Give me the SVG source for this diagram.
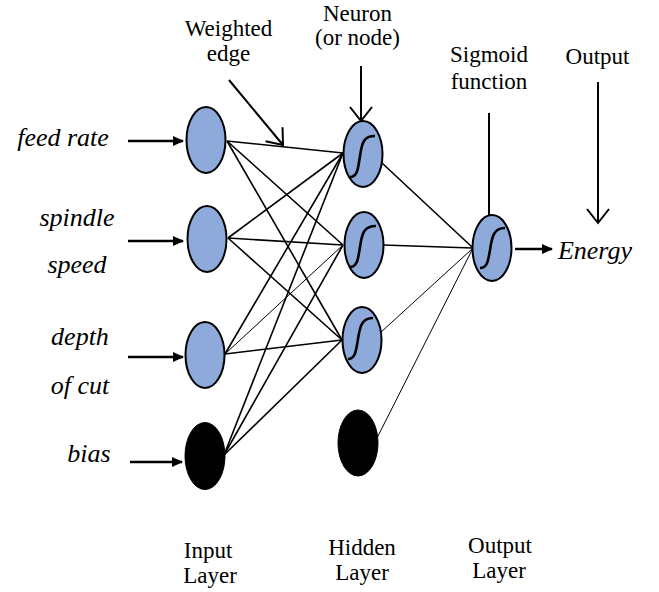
<svg xmlns="http://www.w3.org/2000/svg" width="659" height="592" viewBox="0 0 659 592">
<style>
text{fill:#000;text-anchor:middle;font-family:"Liberation Serif","Times New Roman",serif}
.t{font-size:23px}
.i{font-size:26px;font-style:italic}
.n{fill:#8eaadb;stroke:#000;stroke-width:2}
.b{fill:#000;stroke:#000;stroke-width:1}
.e{stroke:#000;stroke-width:1.6;fill:none}
.e1{stroke:#000;stroke-width:1;fill:none}
.s{stroke:#000;stroke-width:2.6;fill:none}
.fa{stroke:#000;stroke-width:2.5;fill:none;marker-end:url(#fill)}
.oa{stroke:#000;stroke-width:2;fill:none;marker-end:url(#open)}
</style>
<defs>
<marker id="fill" markerWidth="12" markerHeight="12" refX="10" refY="5" orient="auto" markerUnits="userSpaceOnUse" viewBox="0 0 12 10">
<path d="M0,0 L11,5 L0,10 z" fill="#000"/>
</marker>
<marker id="open" markerWidth="30" markerHeight="30" refX="16" refY="15" orient="auto" markerUnits="userSpaceOnUse" viewBox="0 0 30 30">
<path d="M2,4 L16,15 L2,26" fill="none" stroke="#000" stroke-width="2"/>
</marker>
</defs>

<g id="connectors">
<line class="e" x1="227" y1="141" x2="343" y2="153"/>
<line class="e" x1="227" y1="141" x2="343" y2="245"/>
<line class="e" x1="227" y1="141" x2="342" y2="340"/>
<line class="e" x1="228" y1="238" x2="343" y2="153"/>
<line class="e" x1="228" y1="238" x2="343" y2="245"/>
<line class="e" x1="228" y1="238" x2="342" y2="340"/>
<line class="e" x1="225" y1="354" x2="343" y2="153"/>
<line class="e1" x1="225" y1="354" x2="343" y2="245"/>
<line class="e" x1="225" y1="354" x2="342" y2="340"/>
<line class="e" x1="224" y1="455" x2="343" y2="153"/>
<line class="e" x1="224" y1="455" x2="343" y2="245"/>
<line class="e" x1="224" y1="455" x2="342" y2="340"/>
<line class="e" x1="382" y1="163" x2="472" y2="247"/>
<line class="e" x1="383" y1="245" x2="472" y2="248"/>
<line class="e1" x1="380" y1="333" x2="472" y2="249"/>
<line class="e1" x1="377" y1="438" x2="472" y2="250"/>
<line class="fa" x1="128" y1="141" x2="183" y2="141"/>
<line class="fa" x1="128" y1="241" x2="183" y2="241"/>
<line class="fa" x1="128" y1="357" x2="183" y2="357"/>
<line class="fa" x1="130" y1="462" x2="182" y2="462"/>
<line class="fa" x1="515" y1="249" x2="552" y2="249"/>
<line class="oa" x1="229" y1="80" x2="283" y2="145"/>
<line class="oa" x1="361" y1="66" x2="361" y2="121"/>
<line class="oa" x1="489" y1="113" x2="489" y2="241"/>
<line class="oa" x1="598" y1="82" x2="598" y2="223"/>
</g>

<g id="in1"><ellipse class="n" cx="206" cy="140" rx="19.5" ry="33"/></g>
<g id="in2"><ellipse class="n" cx="207" cy="239" rx="19.5" ry="33"/></g>
<g id="in3"><ellipse class="n" cx="205" cy="355" rx="19.5" ry="33"/></g>
<g id="inbias"><ellipse class="b" cx="205" cy="456" rx="20" ry="33.5"/></g>

<g id="h1"><ellipse class="n" cx="363" cy="154" rx="19.5" ry="33"/>
<path class="s" d="M350,177 C357,177 358,170 360,156 C362,142 364,136 375,136"/></g>
<g id="h2"><ellipse class="n" cx="364" cy="245" rx="19.5" ry="33"/>
<path class="s" d="M350,267 C357,267 358,260 360,247 C362,233 364,226 376,226"/></g>
<g id="h3"><ellipse class="n" cx="362" cy="340" rx="19.5" ry="33"/>
<path class="s" d="M348,359 C355,359 356,352 358,339 C360,326 362,318 373,318"/></g>
<g id="hbias"><ellipse class="b" cx="358" cy="443" rx="20" ry="33"/></g>

<g id="out"><ellipse class="n" cx="492" cy="248" rx="19.5" ry="33"/>
<path class="s" d="M480,268 C487,268 488,262 490,250 C492,236 494,228 505,228"/></g>

<g id="labels">
<text class="t" x="228.5" y="36">Weighted</text>
<text class="t" x="228.5" y="61">edge</text>
<text class="t" x="357.5" y="21">Neuron</text>
<text class="t" x="357.5" y="45">(or node)</text>
<text class="t" x="489" y="62">Sigmoid</text>
<text class="t" x="489" y="89">function</text>
<text class="t" x="597.5" y="64">Output</text>
<text class="i" x="595" y="259">Energy</text>
<text class="i" x="63" y="146">feed rate</text>
<text class="i" x="77" y="226">spindle</text>
<text class="i" x="77" y="273">speed</text>
<text class="i" x="80" y="345">depth</text>
<text class="i" x="80" y="394">of cut</text>
<text class="i" x="89" y="462">bias</text>
<text class="t" x="208" y="558">Input</text>
<text class="t" x="210" y="583">Layer</text>
<text class="t" x="362" y="555">Hidden</text>
<text class="t" x="362" y="580">Layer</text>
<text class="t" x="500" y="553">Output</text>
<text class="t" x="499" y="578">Layer</text>
</g>
</svg>
